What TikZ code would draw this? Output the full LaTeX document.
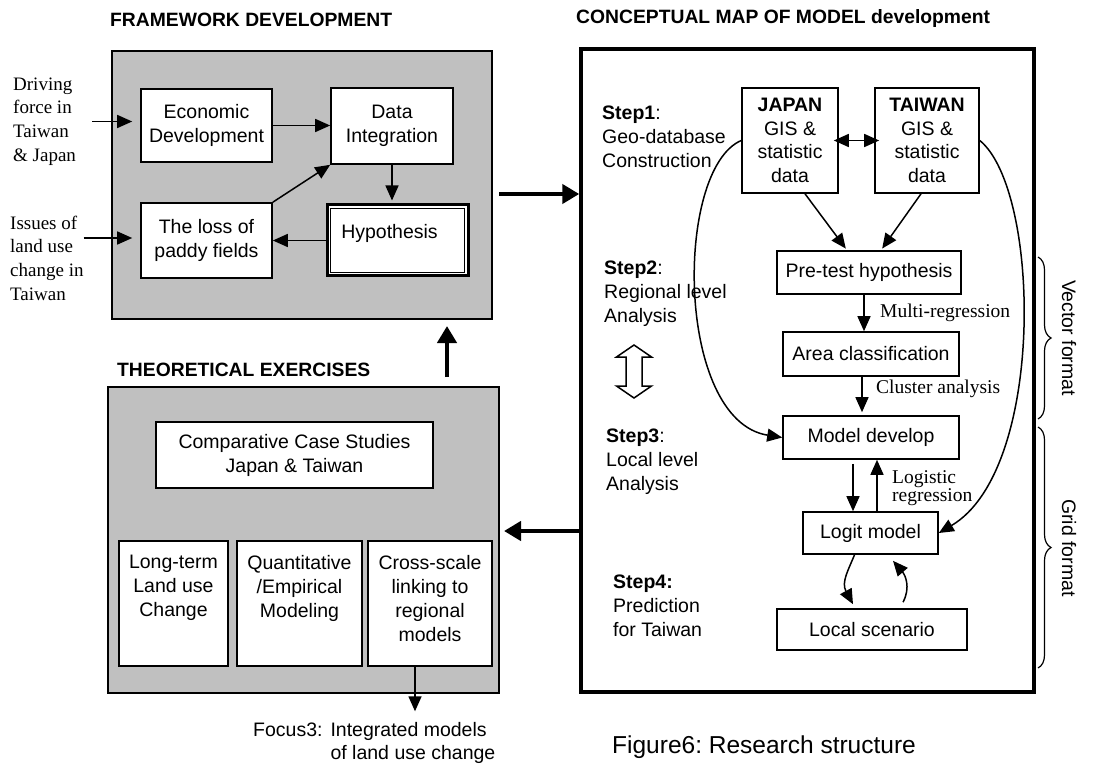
\documentclass[tikz,border=0pt]{standalone}
\usepackage{fontspec}
\setmainfont{Liberation Sans}
\newfontfamily\timesfont{Liberation Serif}
\usetikzlibrary{arrows.meta,positioning,calc,decorations.pathreplacing}
\definecolor{panelgray}{RGB}{192,192,192}
\frenchspacing

\begin{document}
\begin{tikzpicture}[x=1pt,y=-1pt,
    boxfont/.style={font=\fontsize{19.5}{24}\selectfont},
    box/.style={draw, fill=white, line width=1.6pt, inner sep=0pt, align=center, boxfont},
    panel/.style={draw, fill=panelgray, line width=2pt, inner sep=0pt},
    title/.style={anchor=base west, inner sep=0pt, font=\fontsize{19.3}{24}\selectfont\bfseries},
    side/.style={anchor=west, inner sep=0pt, align=left, font=\fontsize{19}{23.7}\selectfont\timesfont},
    steptext/.style={anchor=west, inner sep=0pt, align=left, boxfont},
    note/.style={anchor=west, inner sep=0pt, align=left, font=\fontsize{19.5}{16.5}\selectfont\timesfont},
    arr/.style={line width=1.5pt, -{Triangle[length=15pt,width=13pt]}},
    bigarr/.style={line width=4.5pt, -{Triangle[length=17pt,width=19pt]}},
    brace/.style={decorate, decoration={brace, amplitude=13pt}, line width=1.2pt}
]
    \useasboundingbox (0,0) rectangle (1105,767);

    % Titles
    \node[title] (fwtitle) at (110,27) {FRAMEWORK DEVELOPMENT};
    \node[title] (thtitle) at (117,376) {THEORETICAL EXERCISES};
    \node[title] (maptitle) at (576,24) {CONCEPTUAL MAP OF MODEL development};

    % Panels
    \node[panel, minimum width=380pt, minimum height=268pt] (fwbox) at (302,185) {};
    \node[panel, minimum width=391pt, minimum height=306pt] (thbox) at (303.5,540) {};
    \node[draw, line width=3.5pt, minimum width=453pt, minimum height=643pt] (map) at (807.5,370.5) {};

    % Framework development
    \node[box, minimum width=131pt, minimum height=73pt] (econ) at (206.5,125.5) {Economic\\Development};
    \node[box, minimum width=122pt, minimum height=76pt] (data) at (392,126) {Data\\Integration};
    \node[box, minimum width=131pt, minimum height=75pt] (loss) at (206.5,240.5) {The loss of\\paddy fields};
    \node[box, line width=3pt, minimum width=141pt, minimum height=71pt,
        label={[boxfont, inner sep=0pt, xshift=-8pt, yshift=7pt]center:Hypothesis}] (hyp) at (397.5,240.5) {};
    \draw[line width=1.5pt] ([shift={(5pt,-5pt)}]hyp.north west) rectangle ([shift={(-5pt,5pt)}]hyp.south east);

    \node[side] (drive) at (13,121.5) {Driving\\force in\\Taiwan\\\& Japan};
    \node[side] (issues) at (10,258) {Issues of\\land use\\change in\\Taiwan};

    \draw[arr, shorten >=8pt] ([xshift=16pt]drive.east) -- (drive.east -| econ.west);
    \draw[arr, shorten >=8pt] ([yshift=20pt]issues.east) -- ([yshift=20pt]issues.east -| loss.west);
    \draw[arr] (econ.east) -- (econ.east -| data.west);
    \draw[arr, shorten >=3pt] (data.south) -- (data.south |- hyp.north);
    \draw[arr] (hyp.west) -- (hyp.west -| loss.east);
    \draw[arr] (loss.north east) -- (data.south west);

    % Links between panels
    \draw[bigarr] ([xshift=6pt,yshift=-9pt]fwbox.east) -- ([yshift=-9pt]fwbox.east -| map.west);
    \draw[bigarr] ([xshift=143.5pt,yshift=9pt]thbox.north) -- ([xshift=145pt,yshift=-6pt]fwbox.south);
    \draw[bigarr] ([yshift=9pt]thbox.east -| map.west) -- ([xshift=4pt,yshift=9pt]thbox.east);

    % Theoretical exercises
    \node[box, minimum width=277pt, minimum height=66pt] (comp) at (294.5,455) {Comparative Case Studies\\Japan \& Taiwan};
    \node[box, minimum width=109pt, minimum height=125pt,
        label={[boxfont, align=center, inner sep=0pt, anchor=north, yshift=-15pt]north:Long-term\\Land use\\Change}] (longterm) at (173.5,603.5) {};
    \node[box, minimum width=125pt, minimum height=125pt,
        label={[boxfont, align=center, inner sep=0pt, anchor=north, yshift=-15pt]north:Quantitative\\/Empirical\\Modeling}] (quant) at (299.5,603.5) {};
    \node[box, minimum width=124pt, minimum height=125pt,
        label={[boxfont, align=center, inner sep=0pt, anchor=north, yshift=-15pt]north:Cross-scale\\linking to\\regional\\models}] (cross) at (430,603.5) {};

    \node[steptext, font=\fontsize{19.5}{23}\selectfont] (focus) at (253,743.5)
        {\begin{tabular}{@{}l@{\hspace{8pt}}l@{}}Focus3: & Integrated models\\ & of land use change\end{tabular}};
    \draw[arr, shorten >=9pt] ([xshift=-15pt]cross.south) -- ([xshift=-15pt]cross.south |- focus.north);

    % Steps
    \node[steptext] (step1) at (602,137) {\textbf{Step1}:\\Geo-database\\Construction};
    \node[steptext] (step2) at (604,294) {\textbf{Step2}:\\Regional level\\Analysis};
    \node[steptext] (step3) at (606,462) {\textbf{Step3}:\\Local level\\Analysis};
    \node[steptext] (step4) at (613,606) {\textbf{Step4:}\\Prediction\\for Taiwan};

    % Hollow up-down arrow
    \draw[line width=1.5pt, fill=white] (634,345) -- (651.5,357) -- (642,357) -- (642,386) -- (651.5,386)
        -- (634,398) -- (616.5,386) -- (626,386) -- (626,357) -- (616.5,357) -- cycle;

    % Model development
    \node[box, minimum width=96pt, minimum height=105pt, font=\fontsize{19.5}{23.7}\selectfont] (japan) at (790,140.5)
        {\textbf{JAPAN}\\GIS \&\\statistic\\data};
    \node[box, minimum width=104pt, minimum height=105pt, font=\fontsize{19.5}{23.7}\selectfont] (taiwan) at (927,140.5)
        {\textbf{TAIWAN}\\GIS \&\\statistic\\data};
    \node[box, minimum width=184pt, minimum height=43pt] (pretest) at (869,272.5) {Pre-test hypothesis};
    \node[box, minimum width=176pt, minimum height=44pt] (area) at (871,354) {Area classification};
    \node[box, minimum width=176pt, minimum height=43pt] (model) at (871,437.5) {Model develop};
    \node[box, minimum width=135pt, minimum height=42pt] (logit) at (870.5,533) {Logit model};
    \node[box, minimum width=190pt, minimum height=41pt] (local) at (872,629.5) {Local scenario};

    \draw[line width=1.5pt, {Triangle[length=15pt,width=13pt]}-{Triangle[length=15pt,width=13pt]},
        shorten <=-5pt, shorten >=-5pt] (japan.east) -- (taiwan.west);
    \draw[arr, shorten >=2pt] ([xshift=15pt]japan.south) -- ([xshift=-22pt]pretest.north);
    \draw[arr, shorten >=2pt] ([xshift=-6pt]taiwan.south) -- ([xshift=12pt]pretest.north);

    \draw[arr] ([xshift=-5pt]pretest.south) -- ([xshift=-5pt]pretest.south |- area.north);
    \node[note] (multireg) at (880,313) {Multi-regression};
    \draw[arr, shorten >=3pt] ([xshift=-9pt]area.south) -- ([xshift=-9pt]area.south |- model.north);
    \node[note] (cluster) at (876,389) {Cluster analysis};

    \draw[arr] ([xshift=-18pt,yshift=-4pt]model.south) -- ([xshift=-18pt]model.south |- logit.north);
    \draw[arr] ([xshift=6pt]model.south |- logit.north) -- ([xshift=6pt]model.south);
    \node[note] (logreg) at (892,488.5) {Logistic\\regression};

    % Side loops
    \draw[arr] (japan.west) .. controls +(-67,29) and +(-107,-17) .. (model.west);
    \draw[arr] (taiwan.east) .. controls +(61,50) and +(107,-63) .. (logit.east);
    \draw[arr] ([xshift=-16pt]logit.south) .. controls +(-6,15) and +(-12,-22) .. ([xshift=-19pt,yshift=4pt]local.north);
    \draw[arr] ([xshift=31pt,yshift=6pt]local.north) .. controls +(8,-15) and +(12,14) .. ([xshift=22.5pt,yshift=-6pt]logit.south);

    % Formats
    \draw[brace] (1038,257) -- (1038,419);
    \draw[brace] (1038,427) -- (1038,668);
    \node[rotate=-90, inner sep=0pt, boxfont] (vecfmt) at (1069,338) {Vector format};
    \node[rotate=-90, inner sep=0pt, boxfont] (gridfmt) at (1069,548) {Grid format};

    % Caption
    \node[anchor=west, inner sep=0pt, font=\fontsize{24.5}{30}\selectfont] (caption) at (612,747) {Figure6: Research structure};
\end{tikzpicture}
\end{document}
